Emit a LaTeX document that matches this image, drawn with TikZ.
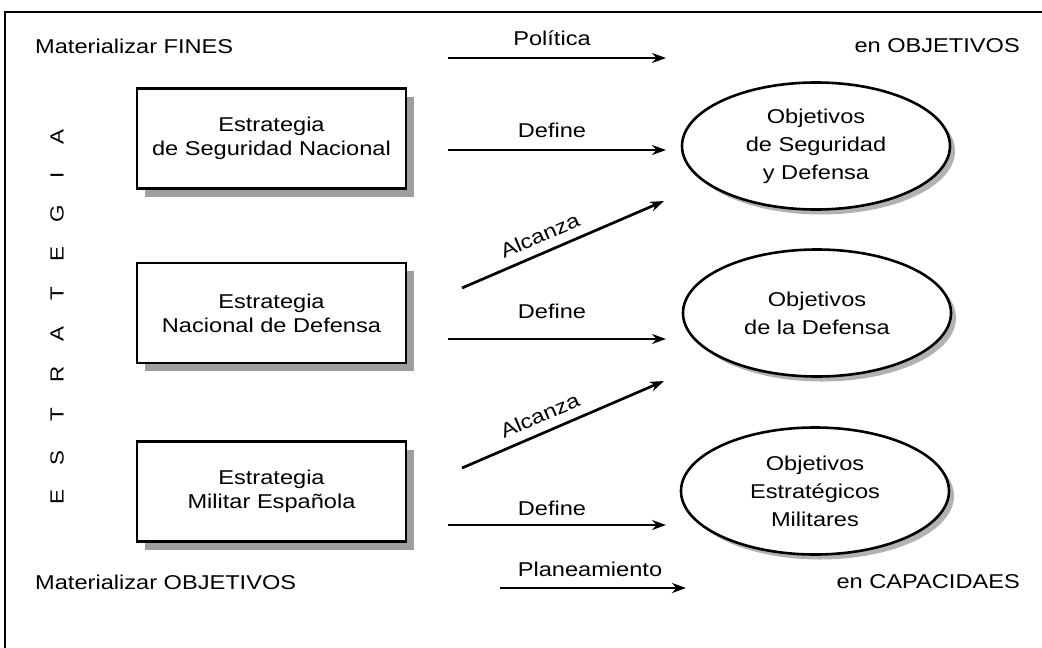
\documentclass[tikz,border=0pt]{standalone}
\usepackage{fontspec}
\setmainfont{Liberation Sans}[FakeStretch=1.18]
\usetikzlibrary{arrows.meta,shapes.geometric,shadows}
\begin{document}
\begin{tikzpicture}[x=1pt,y=-1pt,
  font=\fontsize{20}{24}\selectfont,
  stratbox/.style={draw, line width=2.6pt, fill=white, minimum width=269pt,
    minimum height=100pt, align=center, inner sep=0pt,
    drop shadow={shadow xshift=8pt, shadow yshift=-8pt, fill=black!38, opacity=1}},
  objell/.style={ellipse, draw, line width=2.6pt, fill=white, minimum width=268pt,
    minimum height=127pt, align=center, inner sep=0pt,
    font=\fontsize{20}{28}\selectfont,
    drop shadow={shadow xshift=5pt, shadow yshift=-5pt, fill=black!30, opacity=1}},
  conn/.style={line width=2.7pt, -{Stealth[length=14pt,width=10pt]}},
  lbl/.style={inner sep=2pt},
  letter/.style={rotate=90, inner sep=0pt, font=\fontsize{19}{20}\selectfont}
]
\useasboundingbox (0,0) rectangle (1042,648);
\fill[white] (0,0) rectangle (1042,648);
% frame
\draw[line width=2.4pt] (5,648) -- (5,12) -- (1042,12);

% top row
\node[lbl, anchor=west] (fines) at (33,46) {Materializar FINES};
\node[lbl, anchor=east] (enobj) at (1022,46) {en OBJETIVOS};
\coordinate (p1) at (448,58);
\coordinate (p2) at (666,58);
\draw[conn] (p1) -- (p2);
\node[lbl] (politica) at (552,38) {Política};

% boxes
\node[stratbox] (b1) at (271.5,138.5) {Estrategia\\de Seguridad Nacional};
\node[stratbox] (b2) at (271.5,313) {Estrategia\\Nacional de Defensa};
\node[stratbox] (b3) at (271.5,491.5) {Estrategia\\Militar Española};

% ellipses
\node[objell] (e1) at (816,146) {Objetivos\\de Seguridad\\y Defensa};
\node[objell] (e2) at (817,313) {Objetivos\\de la Defensa};
\node[objell] (e3) at (815,491) {Objetivos\\Estratégicos\\Militares};

% define arrows
\coordinate (d1s) at (448,150); \coordinate (d1e) at (666,150);
\coordinate (d2s) at (448,339); \coordinate (d2e) at (666,339);
\coordinate (d3s) at (448,525); \coordinate (d3e) at (666,525);
\draw[conn] (d1s) -- (d1e);
\draw[conn] (d2s) -- (d2e);
\draw[conn] (d3s) -- (d3e);
\node[lbl] (def1) at (552,130) {Define};
\node[lbl] (def2) at (552,311) {Define};
\node[lbl] (def3) at (552,508) {Define};

% alcanza arrows
\coordinate (a1s) at (462,288); \coordinate (a1e) at (664,201);
\coordinate (a2s) at (462,468); \coordinate (a2e) at (664,381);
\draw[conn] (a1s) -- (a1e) node[pos=0.42, sloped, above=7pt, lbl] (alc1) {Alcanza};
\draw[conn] (a2s) -- (a2e) node[pos=0.42, sloped, above=7pt, lbl] (alc2) {Alcanza};

% bottom row
\node[lbl, anchor=west] (matobj) at (33,582) {Materializar OBJETIVOS};
\node[lbl, anchor=east] (encap) at (1022,582) {en CAPACIDAES};
\coordinate (q1) at (500,588);
\coordinate (q2) at (686,588);
\draw[conn] (q1) -- (q2);
\node[lbl] (plan) at (590,569) {Planeamiento};

% vertical ESTRATEGIA
\foreach \ch/\yy [count=\i] in {E/497,S/458,T/415,R/374,A/334,T/294,E/254,G/214,I/175,A/137}{
  \node[letter] (let\i) at (57,\yy) {\ch};
}
\end{tikzpicture}
\end{document}
